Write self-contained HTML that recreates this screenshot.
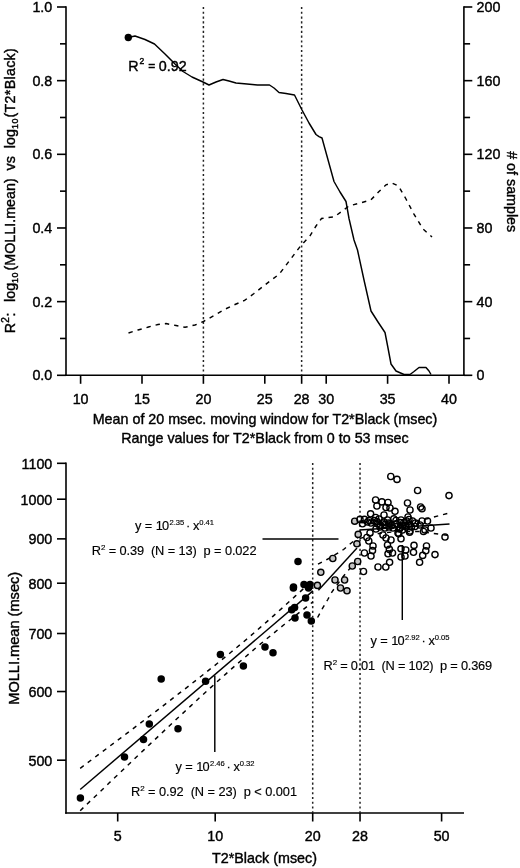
<!DOCTYPE html>
<html lang="en">
<head>
<meta charset="utf-8">
<title>MOLLI.mean vs T2*Black</title>
<style>
html,body{margin:0;padding:0;background:#fff;}
svg{display:block;font-family:"Liberation Sans",Arial,Helvetica,sans-serif;filter:blur(0.45px);}
</style>
</head>
<body>
<svg width="520" height="868" viewBox="0 0 520 868">
<rect width="520" height="868" fill="#fff"/>
<g stroke="#000" fill="none" stroke-linecap="butt">
<line x1="66.00" y1="6.20" x2="66.00" y2="376.10" stroke-width="1.6" />
<line x1="65.20" y1="375.30" x2="464.70" y2="375.30" stroke-width="1.6" />
<line x1="463.90" y1="6.20" x2="463.90" y2="376.10" stroke-width="1.6" />
<line x1="57.00" y1="375.30" x2="66.00" y2="375.30" stroke-width="1.6" />
<line x1="60.00" y1="338.47" x2="66.00" y2="338.47" stroke-width="1.6" />
<line x1="57.00" y1="301.64" x2="66.00" y2="301.64" stroke-width="1.6" />
<line x1="60.00" y1="264.81" x2="66.00" y2="264.81" stroke-width="1.6" />
<line x1="57.00" y1="227.98" x2="66.00" y2="227.98" stroke-width="1.6" />
<line x1="60.00" y1="191.15" x2="66.00" y2="191.15" stroke-width="1.6" />
<line x1="57.00" y1="154.32" x2="66.00" y2="154.32" stroke-width="1.6" />
<line x1="60.00" y1="117.49" x2="66.00" y2="117.49" stroke-width="1.6" />
<line x1="57.00" y1="80.66" x2="66.00" y2="80.66" stroke-width="1.6" />
<line x1="60.00" y1="43.83" x2="66.00" y2="43.83" stroke-width="1.6" />
<line x1="57.00" y1="7.00" x2="66.00" y2="7.00" stroke-width="1.6" />
<line x1="463.90" y1="375.30" x2="472.30" y2="375.30" stroke-width="1.6" />
<line x1="463.90" y1="338.47" x2="470.10" y2="338.47" stroke-width="1.6" />
<line x1="463.90" y1="301.64" x2="472.30" y2="301.64" stroke-width="1.6" />
<line x1="463.90" y1="264.81" x2="470.10" y2="264.81" stroke-width="1.6" />
<line x1="463.90" y1="227.98" x2="472.30" y2="227.98" stroke-width="1.6" />
<line x1="463.90" y1="191.15" x2="470.10" y2="191.15" stroke-width="1.6" />
<line x1="463.90" y1="154.32" x2="472.30" y2="154.32" stroke-width="1.6" />
<line x1="463.90" y1="117.49" x2="470.10" y2="117.49" stroke-width="1.6" />
<line x1="463.90" y1="80.66" x2="472.30" y2="80.66" stroke-width="1.6" />
<line x1="463.90" y1="43.83" x2="470.10" y2="43.83" stroke-width="1.6" />
<line x1="463.90" y1="7.00" x2="472.30" y2="7.00" stroke-width="1.6" />
<line x1="80.60" y1="375.30" x2="80.60" y2="383.80" stroke-width="1.6" />
<line x1="142.00" y1="375.30" x2="142.00" y2="383.80" stroke-width="1.6" />
<line x1="203.40" y1="375.30" x2="203.40" y2="383.80" stroke-width="1.6" />
<line x1="264.80" y1="375.30" x2="264.80" y2="383.80" stroke-width="1.6" />
<line x1="301.64" y1="375.30" x2="301.64" y2="383.80" stroke-width="1.6" />
<line x1="326.20" y1="375.30" x2="326.20" y2="383.80" stroke-width="1.6" />
<line x1="387.60" y1="375.30" x2="387.60" y2="383.80" stroke-width="1.6" />
<line x1="449.00" y1="375.30" x2="449.00" y2="383.80" stroke-width="1.6" />
<line x1="203.40" y1="7.00" x2="203.40" y2="375.30" stroke-width="1.5" stroke-dasharray="2.1 2.67" stroke="#222"/>
<line x1="301.64" y1="7.00" x2="301.64" y2="375.30" stroke-width="1.5" stroke-dasharray="2.1 2.67" stroke="#222"/>
<polyline points="128.3,37.5 135.0,36.0 145.0,39.5 154.5,44.0 165.0,54.0 175.0,64.0 183.0,71.5 192.0,77.0 203.0,82.0 209.0,85.0 216.0,82.0 223.0,79.5 229.0,81.0 236.0,83.0 247.0,84.0 257.5,85.0 269.5,85.0 274.0,88.0 279.0,92.5 286.0,93.5 294.5,95.0 302.0,110.0 309.0,123.0 316.0,134.5 319.0,136.6 322.0,138.0 334.0,181.5 340.0,192.0 346.0,201.5 349.0,218.5 354.0,240.0 357.5,250.0 364.0,280.0 371.0,311.0 378.0,322.0 385.0,332.5 388.0,348.0 391.0,364.0 396.0,371.0 404.0,374.5 410.0,374.5 414.0,371.5 419.0,367.5 426.0,367.5 429.0,371.0 431.0,374.5" fill="none" stroke-width="1.45" stroke-linejoin="round"/>
<polyline points="128.5,333.0 138.0,330.0 148.5,327.0 158.0,324.5 166.0,323.6 176.0,325.5 185.0,327.3 195.0,325.0 203.5,321.5 214.0,315.5 225.4,309.0 235.0,304.5 244.6,300.4 254.0,293.5 263.8,285.8 272.0,279.5 279.2,274.2 290.0,260.0 301.0,245.4 310.0,235.8 316.0,226.0 321.5,218.5 328.0,217.5 334.0,217.0 341.0,212.0 349.0,206.0 360.0,203.0 370.8,200.0 379.0,191.5 386.0,184.8 392.0,183.0 398.5,186.0 406.0,199.0 413.8,213.8 423.0,229.0 432.0,237.0" fill="none" stroke-width="1.45" stroke-dasharray="4.4 5.0"/>
</g>
<circle cx="128.3" cy="37.5" r="3.7" fill="#000"/>
<g fill="#000" stroke="#000" stroke-width="0.4">
<text x="52.30" y="380.20" text-anchor="end" font-size="14.3" >0.0</text>
<text x="52.30" y="306.54" text-anchor="end" font-size="14.3" >0.2</text>
<text x="52.30" y="232.88" text-anchor="end" font-size="14.3" >0.4</text>
<text x="52.30" y="159.22" text-anchor="end" font-size="14.3" >0.6</text>
<text x="52.30" y="85.56" text-anchor="end" font-size="14.3" >0.8</text>
<text x="52.30" y="11.90" text-anchor="end" font-size="14.3" >1.0</text>
<text x="476.60" y="380.40" text-anchor="start" font-size="14.3" >0</text>
<text x="476.60" y="306.74" text-anchor="start" font-size="14.3" >40</text>
<text x="476.60" y="233.08" text-anchor="start" font-size="14.3" >80</text>
<text x="476.60" y="159.42" text-anchor="start" font-size="14.3" >120</text>
<text x="476.60" y="85.76" text-anchor="start" font-size="14.3" >160</text>
<text x="476.60" y="12.10" text-anchor="start" font-size="14.3" >200</text>
<text x="80.60" y="403.60" text-anchor="middle" font-size="14.3" >10</text>
<text x="142.00" y="403.60" text-anchor="middle" font-size="14.3" >15</text>
<text x="203.40" y="403.60" text-anchor="middle" font-size="14.3" >20</text>
<text x="264.80" y="403.60" text-anchor="middle" font-size="14.3" >25</text>
<text x="301.64" y="403.60" text-anchor="middle" font-size="14.3" >28</text>
<text x="326.20" y="403.60" text-anchor="middle" font-size="14.3" >30</text>
<text x="387.60" y="403.60" text-anchor="middle" font-size="14.3" >35</text>
<text x="449.00" y="403.60" text-anchor="middle" font-size="14.3" >40</text>
<text x="265.00" y="423.60" text-anchor="middle" font-size="14.3" >Mean of 20 msec. moving window for T2*Black (msec)</text>
<text x="265.00" y="442.60" text-anchor="middle" font-size="14.3" >Range values for T2*Black from 0 to 53 msec</text>
<text x="128.30" y="71.20" text-anchor="start" font-size="14.3" xml:space="preserve">R<tspan font-size="8.5" dy="-7" dx="0.9">2</tspan><tspan dy="7"> </tspan><tspan font-size="12" dy="-0.8" dx="0">=</tspan><tspan dy="0.8" dx="-0.4"> 0.92</tspan></text>
<g transform="translate(15.3 333.2) rotate(-90)">
<text x="0.00" y="0.00" text-anchor="start" font-size="14.3" xml:space="preserve">R<tspan font-size="10" dy="-6.5">2</tspan><tspan dy="6.5" dx="0.9">:</tspan><tspan dx="2.5">  log</tspan><tspan font-size="9" dy="2.6" letter-spacing="0.5">10</tspan><tspan dy="-2.6" dx="1.4">(MOLLI.mean)  vs  log</tspan><tspan font-size="9" dy="2.6" letter-spacing="0.5">10</tspan><tspan dy="-2.6" dx="0.6" letter-spacing="0.27">(T2*Black)</tspan></text>
</g>
<g transform="translate(506.8 191.7) rotate(90)">
<text x="0.00" y="0.00" text-anchor="middle" font-size="14.3" ># of samples</text>
</g>
</g>
<g stroke="#000" fill="none">
<line x1="66.00" y1="462.51" x2="66.00" y2="813.80" stroke-width="1.6" />
<line x1="65.20" y1="813.00" x2="464.00" y2="813.00" stroke-width="1.6" />
<line x1="57.00" y1="760.19" x2="66.00" y2="760.19" stroke-width="1.6" />
<line x1="57.00" y1="691.54" x2="66.00" y2="691.54" stroke-width="1.6" />
<line x1="57.00" y1="633.50" x2="66.00" y2="633.50" stroke-width="1.6" />
<line x1="57.00" y1="583.22" x2="66.00" y2="583.22" stroke-width="1.6" />
<line x1="57.00" y1="538.87" x2="66.00" y2="538.87" stroke-width="1.6" />
<line x1="57.00" y1="499.20" x2="66.00" y2="499.20" stroke-width="1.6" />
<line x1="57.00" y1="463.31" x2="66.00" y2="463.31" stroke-width="1.6" />
<line x1="117.70" y1="813.00" x2="117.70" y2="821.50" stroke-width="1.6" />
<line x1="215.20" y1="813.00" x2="215.20" y2="821.50" stroke-width="1.6" />
<line x1="312.70" y1="813.00" x2="312.70" y2="821.50" stroke-width="1.6" />
<line x1="360.03" y1="813.00" x2="360.03" y2="821.50" stroke-width="1.6" />
<line x1="441.60" y1="813.00" x2="441.60" y2="821.50" stroke-width="1.6" />
<line x1="312.70" y1="463.00" x2="312.70" y2="813.00" stroke-width="1.5" stroke-dasharray="2.1 2.67" stroke="#222"/>
<line x1="360.03" y1="463.00" x2="360.03" y2="813.00" stroke-width="1.5" stroke-dasharray="2.1 2.67" stroke="#222"/>
<line x1="80.20" y1="789.50" x2="313.00" y2="590.83" stroke-width="1.45" />
<polyline points="80.2,768.3 86.0,764.0 91.8,759.6 97.7,755.2 103.5,750.9 109.3,746.5 115.1,742.1 120.9,737.8 126.8,733.4 132.6,729.0 138.4,724.6 144.2,720.2 150.0,715.7 155.9,711.3 161.7,706.9 167.5,702.4 173.3,697.9 179.1,693.4 185.0,688.9 190.8,684.4 196.6,679.8 202.4,675.3 208.2,670.6 214.1,666.0 219.9,661.3 225.7,656.6 231.5,651.8 237.3,647.0 243.2,642.1 249.0,637.2 254.8,632.2 260.6,627.1 266.4,622.1 272.3,616.9 278.1,611.7 283.9,606.5 289.7,601.2 295.5,595.9 301.4,590.6 307.2,585.2 313.0,579.8" fill="none" stroke-width="1.45" stroke-dasharray="4.4 5.0"/>
<polyline points="80.2,810.7 86.0,805.1 91.8,799.5 97.7,794.0 103.5,788.4 109.3,782.8 115.1,777.3 120.9,771.7 126.8,766.2 132.6,760.6 138.4,755.1 144.2,749.6 150.0,744.1 155.9,738.6 161.7,733.1 167.5,727.6 173.3,722.1 179.1,716.7 185.0,711.3 190.8,705.9 196.6,700.5 202.4,695.1 208.2,689.8 214.1,684.5 219.9,679.3 225.7,674.1 231.5,668.9 237.3,663.8 243.2,658.8 249.0,653.8 254.8,648.8 260.6,643.9 266.4,639.1 272.3,634.3 278.1,629.5 283.9,624.8 289.7,620.2 295.5,615.5 301.4,610.9 307.2,606.4 313.0,601.8" fill="none" stroke-width="1.45" stroke-dasharray="4.4 5.0"/>
<line x1="318.40" y1="590.20" x2="357.00" y2="548.10" stroke-width="1.45" />
<polyline points="318.0,564.2 327.8,559.0 343.6,549.5 359.5,536.0" fill="none" stroke-width="1.45" stroke-dasharray="4.4 5.0"/>
<polyline points="317.6,617.5 322.5,608.4 327.8,599.5 332.0,591.8 343.6,576.0 350.0,568.3 359.5,557.5" fill="none" stroke-width="1.45" stroke-dasharray="4.4 5.0"/>
<line x1="359.50" y1="530.00" x2="449.50" y2="524.00" stroke-width="1.45" />
<polyline points="359.5,522.5 380.0,524.3 400.0,523.6 420.0,520.6 449.5,513.0" fill="none" stroke-width="1.45" stroke-dasharray="4.4 5.0"/>
<polyline points="359.5,538.5 380.0,533.2 400.0,531.3 420.0,531.6 449.5,535.5" fill="none" stroke-width="1.45" stroke-dasharray="4.4 5.0"/>
<line x1="262.50" y1="539.00" x2="338.50" y2="539.00" stroke-width="1.45" />
<line x1="402.30" y1="545.00" x2="402.30" y2="620.00" stroke-width="1.45" />
<line x1="214.80" y1="675.60" x2="214.80" y2="752.00" stroke-width="1.45" />
</g>
<circle cx="332.8" cy="558.5" r="3.1" fill="#c4c4c4" stroke="#000" stroke-width="1.4"/>
<circle cx="320.8" cy="572.3" r="3.1" fill="#c4c4c4" stroke="#000" stroke-width="1.4"/>
<circle cx="317.4" cy="585.4" r="3.1" fill="#c4c4c4" stroke="#000" stroke-width="1.4"/>
<circle cx="335" cy="580" r="3.1" fill="#c4c4c4" stroke="#000" stroke-width="1.4"/>
<circle cx="344.6" cy="580" r="3.1" fill="#c4c4c4" stroke="#000" stroke-width="1.4"/>
<circle cx="340.5" cy="588" r="3.1" fill="#c4c4c4" stroke="#000" stroke-width="1.4"/>
<circle cx="347" cy="590.8" r="3.1" fill="#c4c4c4" stroke="#000" stroke-width="1.4"/>
<circle cx="352.3" cy="566" r="3.1" fill="#c4c4c4" stroke="#000" stroke-width="1.4"/>
<circle cx="357.7" cy="561.5" r="3.1" fill="#c4c4c4" stroke="#000" stroke-width="1.4"/>
<circle cx="358.2" cy="534.4" r="3.1" fill="#c4c4c4" stroke="#000" stroke-width="1.4"/>
<circle cx="354.7" cy="521.2" r="3.1" fill="#c4c4c4" stroke="#000" stroke-width="1.4"/>
<circle cx="356.9" cy="543.8" r="3.1" fill="#c4c4c4" stroke="#000" stroke-width="1.4"/>
<circle cx="390.8" cy="476.5" r="3.1" fill="none" stroke="#000" stroke-width="1.4"/>
<circle cx="397" cy="479.4" r="3.1" fill="none" stroke="#000" stroke-width="1.4"/>
<circle cx="417.6" cy="490.5" r="3.1" fill="none" stroke="#000" stroke-width="1.4"/>
<circle cx="449" cy="495.6" r="3.1" fill="none" stroke="#000" stroke-width="1.4"/>
<circle cx="375.6" cy="500" r="3.1" fill="none" stroke="#000" stroke-width="1.4"/>
<circle cx="376.9" cy="506" r="3.1" fill="none" stroke="#000" stroke-width="1.4"/>
<circle cx="381.9" cy="501.9" r="3.1" fill="none" stroke="#000" stroke-width="1.4"/>
<circle cx="388" cy="502.5" r="3.1" fill="none" stroke="#000" stroke-width="1.4"/>
<circle cx="386" cy="507.5" r="3.1" fill="none" stroke="#000" stroke-width="1.4"/>
<circle cx="390" cy="508" r="3.1" fill="none" stroke="#000" stroke-width="1.4"/>
<circle cx="395" cy="511.3" r="3.1" fill="none" stroke="#000" stroke-width="1.4"/>
<circle cx="370.6" cy="513.8" r="3.1" fill="none" stroke="#000" stroke-width="1.4"/>
<circle cx="375.6" cy="517.5" r="3.1" fill="none" stroke="#000" stroke-width="1.4"/>
<circle cx="360" cy="519.4" r="3.1" fill="none" stroke="#000" stroke-width="1.4"/>
<circle cx="364.4" cy="519.4" r="3.1" fill="none" stroke="#000" stroke-width="1.4"/>
<circle cx="362.5" cy="523.8" r="3.1" fill="none" stroke="#000" stroke-width="1.4"/>
<circle cx="371" cy="523" r="3.1" fill="none" stroke="#000" stroke-width="1.4"/>
<circle cx="377.5" cy="523.8" r="3.1" fill="none" stroke="#000" stroke-width="1.4"/>
<circle cx="382.5" cy="523" r="3.1" fill="none" stroke="#000" stroke-width="1.4"/>
<circle cx="387.5" cy="520" r="3.1" fill="none" stroke="#000" stroke-width="1.4"/>
<circle cx="390" cy="523.8" r="3.1" fill="none" stroke="#000" stroke-width="1.4"/>
<circle cx="393.8" cy="518.8" r="3.1" fill="none" stroke="#000" stroke-width="1.4"/>
<circle cx="396" cy="523.8" r="3.1" fill="none" stroke="#000" stroke-width="1.4"/>
<circle cx="400" cy="522.5" r="3.1" fill="none" stroke="#000" stroke-width="1.4"/>
<circle cx="402.5" cy="526" r="3.1" fill="none" stroke="#000" stroke-width="1.4"/>
<circle cx="370" cy="533" r="3.1" fill="none" stroke="#000" stroke-width="1.4"/>
<circle cx="366.9" cy="537.5" r="3.1" fill="none" stroke="#000" stroke-width="1.4"/>
<circle cx="368.8" cy="541" r="3.1" fill="none" stroke="#000" stroke-width="1.4"/>
<circle cx="373" cy="546" r="3.1" fill="none" stroke="#000" stroke-width="1.4"/>
<circle cx="372.5" cy="550.6" r="3.1" fill="none" stroke="#000" stroke-width="1.4"/>
<circle cx="364.4" cy="553" r="3.1" fill="none" stroke="#000" stroke-width="1.4"/>
<circle cx="371" cy="556" r="3.1" fill="none" stroke="#000" stroke-width="1.4"/>
<circle cx="383" cy="535" r="3.1" fill="none" stroke="#000" stroke-width="1.4"/>
<circle cx="386" cy="538" r="3.1" fill="none" stroke="#000" stroke-width="1.4"/>
<circle cx="391" cy="540" r="3.1" fill="none" stroke="#000" stroke-width="1.4"/>
<circle cx="387.5" cy="545" r="3.1" fill="none" stroke="#000" stroke-width="1.4"/>
<circle cx="389.4" cy="549.4" r="3.1" fill="none" stroke="#000" stroke-width="1.4"/>
<circle cx="388" cy="553.8" r="3.1" fill="none" stroke="#000" stroke-width="1.4"/>
<circle cx="392.5" cy="553" r="3.1" fill="none" stroke="#000" stroke-width="1.4"/>
<circle cx="398.8" cy="533.8" r="3.1" fill="none" stroke="#000" stroke-width="1.4"/>
<circle cx="401" cy="538.8" r="3.1" fill="none" stroke="#000" stroke-width="1.4"/>
<circle cx="401" cy="548.8" r="3.1" fill="none" stroke="#000" stroke-width="1.4"/>
<circle cx="363.5" cy="571.5" r="3.1" fill="none" stroke="#000" stroke-width="1.4"/>
<circle cx="407.5" cy="503" r="3.1" fill="none" stroke="#000" stroke-width="1.4"/>
<circle cx="410" cy="510" r="3.1" fill="none" stroke="#000" stroke-width="1.4"/>
<circle cx="420.6" cy="507" r="3.1" fill="none" stroke="#000" stroke-width="1.4"/>
<circle cx="422" cy="508.8" r="3.1" fill="none" stroke="#000" stroke-width="1.4"/>
<circle cx="408" cy="517" r="3.1" fill="none" stroke="#000" stroke-width="1.4"/>
<circle cx="422" cy="521" r="3.1" fill="none" stroke="#000" stroke-width="1.4"/>
<circle cx="427.5" cy="521" r="3.1" fill="none" stroke="#000" stroke-width="1.4"/>
<circle cx="420" cy="525" r="3.1" fill="none" stroke="#000" stroke-width="1.4"/>
<circle cx="431" cy="528" r="3.1" fill="none" stroke="#000" stroke-width="1.4"/>
<circle cx="425" cy="530" r="3.1" fill="none" stroke="#000" stroke-width="1.4"/>
<circle cx="403.8" cy="522.5" r="3.1" fill="none" stroke="#000" stroke-width="1.4"/>
<circle cx="408.8" cy="523.8" r="3.1" fill="none" stroke="#000" stroke-width="1.4"/>
<circle cx="412.5" cy="521" r="3.1" fill="none" stroke="#000" stroke-width="1.4"/>
<circle cx="402.5" cy="530" r="3.1" fill="none" stroke="#000" stroke-width="1.4"/>
<circle cx="410" cy="531" r="3.1" fill="none" stroke="#000" stroke-width="1.4"/>
<circle cx="445" cy="537" r="3.1" fill="none" stroke="#000" stroke-width="1.4"/>
<circle cx="435" cy="554.6" r="3.1" fill="none" stroke="#000" stroke-width="1.4"/>
<circle cx="426.5" cy="546" r="3.1" fill="none" stroke="#000" stroke-width="1.4"/>
<circle cx="425.8" cy="550.8" r="3.1" fill="none" stroke="#000" stroke-width="1.4"/>
<circle cx="422.7" cy="555.4" r="3.1" fill="none" stroke="#000" stroke-width="1.4"/>
<circle cx="419.6" cy="562.3" r="3.1" fill="none" stroke="#000" stroke-width="1.4"/>
<circle cx="414" cy="545.4" r="3.1" fill="none" stroke="#000" stroke-width="1.4"/>
<circle cx="413.5" cy="552.3" r="3.1" fill="none" stroke="#000" stroke-width="1.4"/>
<circle cx="405.8" cy="550" r="3.1" fill="none" stroke="#000" stroke-width="1.4"/>
<circle cx="401" cy="557" r="3.1" fill="none" stroke="#000" stroke-width="1.4"/>
<circle cx="405" cy="556" r="3.1" fill="none" stroke="#000" stroke-width="1.4"/>
<circle cx="423.5" cy="531.5" r="3.1" fill="none" stroke="#000" stroke-width="1.4"/>
<circle cx="398" cy="533" r="3.1" fill="none" stroke="#000" stroke-width="1.4"/>
<circle cx="409.6" cy="532.3" r="3.1" fill="none" stroke="#000" stroke-width="1.4"/>
<circle cx="380" cy="527" r="3.1" fill="none" stroke="#000" stroke-width="1.4"/>
<circle cx="385" cy="528" r="3.1" fill="none" stroke="#000" stroke-width="1.4"/>
<circle cx="393" cy="528" r="3.1" fill="none" stroke="#000" stroke-width="1.4"/>
<circle cx="376" cy="529" r="3.1" fill="none" stroke="#000" stroke-width="1.4"/>
<circle cx="406" cy="527" r="3.1" fill="none" stroke="#000" stroke-width="1.4"/>
<circle cx="415" cy="526.5" r="3.1" fill="none" stroke="#000" stroke-width="1.4"/>
<circle cx="379" cy="519" r="3.1" fill="none" stroke="#000" stroke-width="1.4"/>
<circle cx="384" cy="515" r="3.1" fill="none" stroke="#000" stroke-width="1.4"/>
<circle cx="389" cy="527" r="3.1" fill="none" stroke="#000" stroke-width="1.4"/>
<circle cx="400" cy="527.5" r="3.1" fill="none" stroke="#000" stroke-width="1.4"/>
<circle cx="396" cy="520.5" r="3.1" fill="none" stroke="#000" stroke-width="1.4"/>
<circle cx="385" cy="524.5" r="3.1" fill="none" stroke="#000" stroke-width="1.4"/>
<circle cx="374.5" cy="520.5" r="3.1" fill="none" stroke="#000" stroke-width="1.4"/>
<circle cx="367.5" cy="522" r="3.1" fill="none" stroke="#000" stroke-width="1.4"/>
<circle cx="378" cy="567" r="3.1" fill="none" stroke="#000" stroke-width="1.4"/>
<circle cx="385.8" cy="567" r="3.1" fill="none" stroke="#000" stroke-width="1.4"/>
<circle cx="389.6" cy="562.3" r="3.1" fill="none" stroke="#000" stroke-width="1.4"/>
<circle cx="377" cy="521.5" r="3.1" fill="none" stroke="#000" stroke-width="1.4"/>
<circle cx="380.5" cy="525" r="3.1" fill="none" stroke="#000" stroke-width="1.4"/>
<circle cx="384" cy="522" r="3.1" fill="none" stroke="#000" stroke-width="1.4"/>
<circle cx="388.5" cy="523" r="3.1" fill="none" stroke="#000" stroke-width="1.4"/>
<circle cx="401" cy="520" r="3.1" fill="none" stroke="#000" stroke-width="1.4"/>
<circle cx="405" cy="525.5" r="3.1" fill="none" stroke="#000" stroke-width="1.4"/>
<circle cx="409" cy="519.5" r="3.1" fill="none" stroke="#000" stroke-width="1.4"/>
<circle cx="411.5" cy="527" r="3.1" fill="none" stroke="#000" stroke-width="1.4"/>
<circle cx="399.5" cy="529" r="3.1" fill="none" stroke="#000" stroke-width="1.4"/>
<circle cx="406.5" cy="521" r="3.1" fill="none" stroke="#000" stroke-width="1.4"/>
<circle cx="392" cy="525.5" r="3.1" fill="none" stroke="#000" stroke-width="1.4"/>
<circle cx="369" cy="520.5" r="3.1" fill="none" stroke="#000" stroke-width="1.4"/>
<circle cx="415.5" cy="523" r="3.1" fill="none" stroke="#000" stroke-width="1.4"/>
<circle cx="80.4" cy="798" r="3.75" fill="#000"/>
<circle cx="124.5" cy="757" r="3.75" fill="#000"/>
<circle cx="143.5" cy="739.5" r="3.75" fill="#000"/>
<circle cx="149.3" cy="723.9" r="3.75" fill="#000"/>
<circle cx="178" cy="728.8" r="3.75" fill="#000"/>
<circle cx="161.2" cy="679" r="3.75" fill="#000"/>
<circle cx="205.6" cy="681.2" r="3.75" fill="#000"/>
<circle cx="220.4" cy="654.4" r="3.75" fill="#000"/>
<circle cx="243.4" cy="665.9" r="3.75" fill="#000"/>
<circle cx="265" cy="647" r="3.75" fill="#000"/>
<circle cx="273" cy="652.7" r="3.75" fill="#000"/>
<circle cx="293.5" cy="587" r="3.75" fill="#000"/>
<circle cx="294.6" cy="607.4" r="3.75" fill="#000"/>
<circle cx="291.7" cy="609.7" r="3.75" fill="#000"/>
<circle cx="295" cy="618" r="3.75" fill="#000"/>
<circle cx="305.6" cy="598" r="3.75" fill="#000"/>
<circle cx="307" cy="615" r="3.75" fill="#000"/>
<circle cx="311.3" cy="621" r="3.75" fill="#000"/>
<circle cx="304" cy="584.4" r="3.75" fill="#000"/>
<circle cx="310" cy="584.4" r="3.75" fill="#000"/>
<circle cx="308.5" cy="588" r="3.75" fill="#000"/>
<circle cx="298" cy="561.5" r="3.75" fill="#000"/>
<circle cx="293.4" cy="588" r="3.75" fill="#000"/>
<g fill="#000" stroke="#000" stroke-width="0.4">
<text x="52.30" y="765.69" text-anchor="end" font-size="14.3" >500</text>
<text x="52.30" y="697.04" text-anchor="end" font-size="14.3" >600</text>
<text x="52.30" y="639.00" text-anchor="end" font-size="14.3" >700</text>
<text x="52.30" y="588.72" text-anchor="end" font-size="14.3" >800</text>
<text x="52.30" y="544.37" text-anchor="end" font-size="14.3" >900</text>
<text x="52.30" y="504.70" text-anchor="end" font-size="14.3" >1000</text>
<text x="52.30" y="468.81" text-anchor="end" font-size="14.3" >1100</text>
<text x="117.70" y="841.30" text-anchor="middle" font-size="14.3" >5</text>
<text x="215.20" y="841.30" text-anchor="middle" font-size="14.3" >10</text>
<text x="312.70" y="841.30" text-anchor="middle" font-size="14.3" >20</text>
<text x="360.03" y="841.30" text-anchor="middle" font-size="14.3" >28</text>
<text x="441.60" y="841.30" text-anchor="middle" font-size="14.3" >50</text>
<text x="264.50" y="863.00" text-anchor="middle" font-size="14.3" >T2*Black (msec)</text>
<g transform="translate(19.0 638.3) rotate(-90) scale(1.02 1)">
<text x="0.00" y="0.00" text-anchor="middle" font-size="14.3" >MOLLI.mean (msec)</text>
</g>
</g>
<g fill="#000" stroke="#000" stroke-width="0.15">
<text x="134.90" y="530.40" text-anchor="start" font-size="12.8" >y = 1<tspan dx="-1">0</tspan><tspan font-size="7.6" dy="-5" dx="0.3">2.35</tspan><tspan dy="5" dx="1.8">·</tspan><tspan dx="2.6">x</tspan><tspan font-size="7.6" dy="-5">0.41</tspan></text>
<text x="91.80" y="555.40" text-anchor="start" font-size="12.8" xml:space="preserve" textLength="164.7" lengthAdjust="spacing">R<tspan font-size="8" dy="-5">2</tspan><tspan dy="5"> = 0.39  (N = 13)  p = 0.022</tspan></text>
<text x="370.40" y="644.80" text-anchor="start" font-size="12.8" >y = 1<tspan dx="-1">0</tspan><tspan font-size="7.6" dy="-5" dx="0.3">2.92</tspan><tspan dy="5" dx="1.8">·</tspan><tspan dx="2.6">x</tspan><tspan font-size="7.6" dy="-5">0.05</tspan></text>
<text x="323.60" y="669.60" text-anchor="start" font-size="12.8" xml:space="preserve" textLength="168.5" lengthAdjust="spacing">R<tspan font-size="8" dy="-5">2</tspan><tspan dy="5"> = 0.01  (N = 102)  p = 0.369</tspan></text>
<text x="175.40" y="770.80" text-anchor="start" font-size="12.8" >y = 1<tspan dx="-1">0</tspan><tspan font-size="7.6" dy="-5" dx="0.3">2.46</tspan><tspan dy="5" dx="1.8">·</tspan><tspan dx="2.6">x</tspan><tspan font-size="7.6" dy="-5">0.32</tspan></text>
<text x="131.00" y="795.80" text-anchor="start" font-size="12.8" xml:space="preserve" textLength="166.0" lengthAdjust="spacing">R<tspan font-size="8" dy="-5">2</tspan><tspan dy="5"> = 0.92  (N = 23)  p &lt; 0.001</tspan></text>
</g>
</svg>
</body>
</html>
